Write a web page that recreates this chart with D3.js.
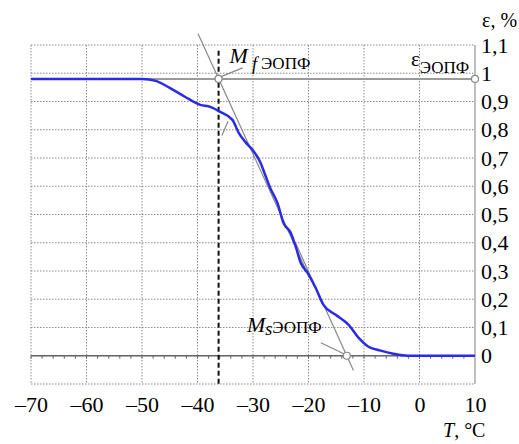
<!doctype html>
<html>
<head>
  <meta charset="UTF-8">
  <title>chart</title>
  <script src="https://cdn.jsdelivr.net/npm/d3@7"></script>
</head>
<body style="margin:0">
<svg width="519" height="444" id="chart"></svg>
<script>
  // curve
  var temps  = [-70, -60, -50, -47.5, -45, -42.2, -39.5, -37.7, -35.9, -33.7, -32.6, -31.4, -30.1, -28.7, -27.8, -26.9,
                -25.6, -24.5, -23.2, -22.3, -21.4, -20.2, -18.7, -17.3, -15.1, -12.8, -11.0, -9.2, -7.0, -4.7, -2.1, 0, 10];
  var strain = [0.98, 0.98, 0.98, 0.973, 0.948, 0.916, 0.888, 0.881, 0.863, 0.835, 0.79, 0.757, 0.729, 0.686, 0.64, 0.594,
                0.541, 0.47, 0.435, 0.386, 0.329, 0.294, 0.24, 0.18, 0.145, 0.11, 0.064, 0.032, 0.018, 0.007, 0, 0, 0];
  var xTicks = [-70, -60, -50, -40, -30, -20, -10, 0, 10];
  var yTicks = [0, 0.1, 0.2, 0.3, 0.4, 0.5, 0.6, 0.7, 0.8, 0.9, 1, 1.1];

  var plateau = 0.98;   // ε ЭОПФ
  var mfT = -36.2;      // Mf ЭОПФ
  var msT = -13.1;      // Ms ЭОПФ
  var tangentF = [[-39.9, 1.14], [-20.2, 0.293]];
  var tangentS = [[-22.35, 0.40], [-11.9, -0.052]];

  var FONT = 'Liberation Serif';
  var svg = d3.select('#chart');
  var x = d3.scaleLinear().domain([-70, 10]).range([31, 475]),
    y = d3.scaleLinear().domain([-0.1, 1.1]).range([384, 45]);

  // dotted grid
  var grid = svg.append('g').attr('stroke', '#8a8a8a').attr('stroke-width', 1).attr('stroke-dasharray', '1.5,1.5');
  grid.selectAll('.gx').data(xTicks.slice(0, -1)).enter().append('line')
    .attr('x1', function (d) { return x(d); }).attr('x2', function (d) { return x(d); })
    .attr('y1', y(1.1)).attr('y2', y(-0.1));
  grid.selectAll('.gy').data([-0.1].concat(yTicks)).enter().append('line')
    .attr('x1', x(-70)).attr('x2', x(10))
    .attr('y1', function (d) { return y(d); }).attr('y2', function (d) { return y(d); });

  // right frame line
  svg.append('line').attr('x1', x(10)).attr('x2', x(10)).attr('y1', y(1.1)).attr('y2', y(-0.1))
    .attr('stroke', '#aaa').attr('stroke-width', 1.5);

  // zero line with small ticks
  svg.append('line').attr('x1', x(-70)).attr('x2', x(10)).attr('y1', y(0)).attr('y2', y(0))
    .attr('stroke', '#666').attr('stroke-width', 1.5);
  svg.append('g').selectAll('line').data(d3.range(-70, 10, 2)).enter().append('line')
    .attr('x1', function (d) { return x(d); }).attr('x2', function (d) { return x(d); })
    .attr('y1', y(0)).attr('y2', y(0) + 3)
    .attr('stroke', '#666').attr('stroke-width', 1);

  // ε ЭОПФ level
  svg.append('line').attr('x1', x(-70)).attr('x2', x(10)).attr('y1', y(plateau)).attr('y2', y(plateau))
    .attr('stroke', '#9a9a9a').attr('stroke-width', 2);

  // tangents
  var line = d3.line().x(function (d) { return x(d[0]); }).y(function (d) { return y(d[1]); });
  [tangentF, tangentS].forEach(function (t) {
    svg.append('path').attr('d', line(t)).attr('fill', 'none').attr('stroke', '#888').attr('stroke-width', 1.2);
  });

  // Mf dashed vertical
  svg.append('line').attr('x1', x(mfT)).attr('x2', x(mfT)).attr('y1', y(1.08)).attr('y2', y(-0.1))
    .attr('stroke', '#111').attr('stroke-width', 2).attr('stroke-dasharray', '5,3');

  // main curve
  svg.append('path')
    .datum(d3.zip(temps, strain))
    .attr('d', line.curve(d3.curveMonotoneX))
    .attr('fill', 'none').attr('stroke', '#2b2be6').attr('stroke-width', 2.5);

  // leaders
  var lead = svg.append('g').attr('stroke', '#888').attr('stroke-width', 1.2);
  lead.append('line').attr('x1', x(mfT) + 2).attr('y1', y(plateau) - 2).attr('x2', x(mfT) + 24).attr('y2', y(plateau) - 11);
  lead.append('line').attr('x1', x(-35.6)).attr('y1', y(0.78)).attr('x2', x(-34.5)).attr('y2', y(0.83));
  lead.append('line').attr('x1', x(msT) - 3).attr('y1', y(0) - 2).attr('x2', x(msT) - 26).attr('y2', y(0) - 13);

  // markers
  [[mfT, plateau], [msT, 0], [10, plateau]].forEach(function (p) {
    svg.append('circle').attr('cx', x(p[0])).attr('cy', y(p[1])).attr('r', 3.5)
      .attr('fill', '#fff').attr('stroke', '#888').attr('stroke-width', 1.2);
  });

  // axes
  var fmt = function (d) { return d === 0 || d === 1 ? String(d) : d3.format('.1f')(d).replace('.', ','); };
  svg.append('g').attr('transform', 'translate(' + x(10) + ',0)')
    .call(d3.axisRight(y).tickValues(yTicks).tickFormat(fmt).tickSize(0).tickPadding(6))
    .call(function (g) { g.select('.domain').remove(); })
    .selectAll('text').attr('font-size', 22).attr('fill', '#000');

  svg.append('g').attr('transform', 'translate(0,' + y(-0.1) + ')')
    .call(d3.axisBottom(x).tickValues(xTicks).tickFormat(function (d) { return d < 0 ? '–' + (-d) : String(d); })
      .tickSize(0).tickPadding(12))
    .call(function (g) { g.select('.domain').remove(); })
    .selectAll('text').attr('font-size', 22).attr('fill', '#000');

  // labels
  svg.append('text').attr('x', 482).attr('y', 27).attr('font-size', 20).text('ε, %');
  var tl = svg.append('text').attr('x', 443).attr('y', 437).attr('font-size', 20);
  tl.append('tspan').attr('font-style', 'italic').text('T');
  tl.append('tspan').text(', °C');

  var ef = svg.append('text').attr('x', 411).attr('y', 66).attr('font-size', 21);
  ef.append('tspan').text('ε');
  ef.append('tspan').attr('dy', 7).attr('font-size', 17).text('ЭОПФ');

  var mf = svg.append('text').attr('x', x(mfT) + 11).attr('y', y(plateau) - 16).attr('font-size', 22);
  mf.append('tspan').attr('font-style', 'italic').text('M');
  mf.append('tspan').attr('font-style', 'italic').attr('font-size', 18).attr('dx', 4).attr('dy', 7).text('f');
  mf.append('tspan').attr('font-size', 17).attr('dx', 4).attr('dy', -1).text('ЭОПФ');

  var ms = svg.append('text').attr('x', 247).attr('y', 332).attr('font-size', 22);
  ms.append('tspan').attr('font-style', 'italic').text('M');
  ms.append('tspan').attr('font-style', 'italic').attr('font-size', 18).attr('dy', 3).text('s');
  ms.append('tspan').attr('font-size', 17).attr('dy', -2).text('ЭОПФ');

  // serif everywhere
  svg.selectAll('text').attr('font-family', FONT).style('font-family', FONT);
</script>
</body>
</html>
